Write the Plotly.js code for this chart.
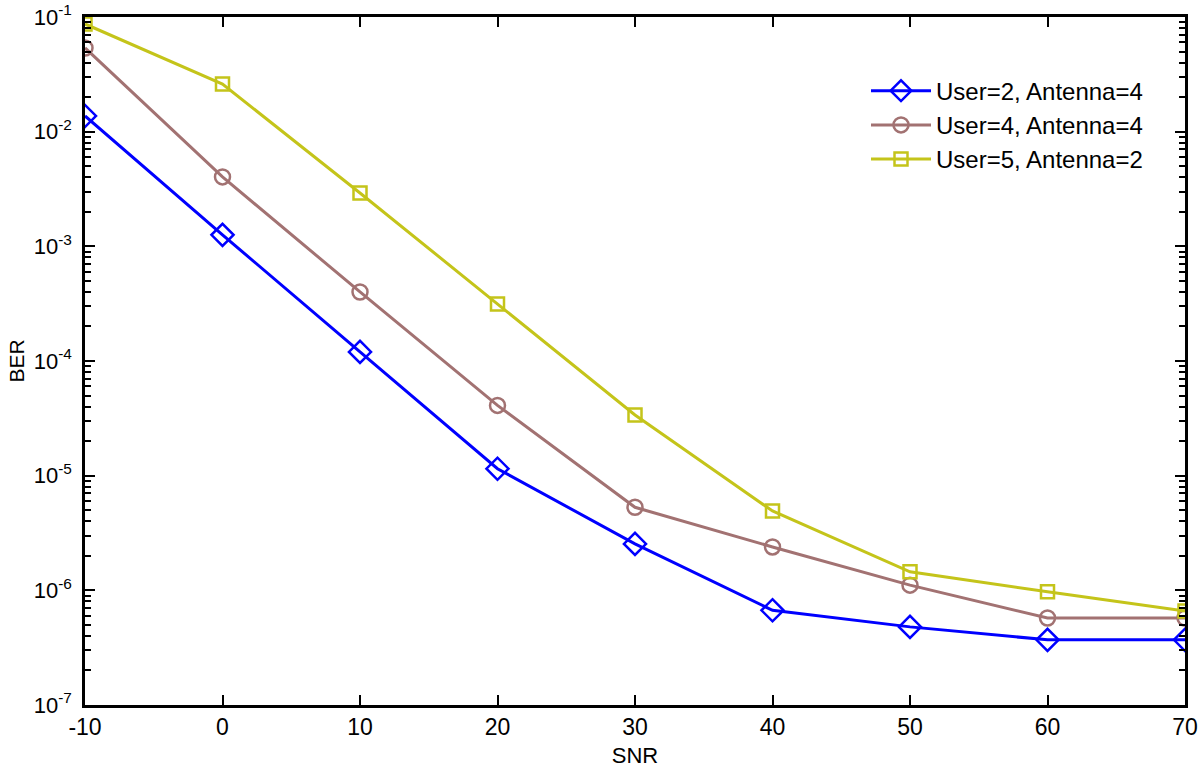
<!DOCTYPE html>
<html><head><meta charset="utf-8">
<script src="https://cdn.plot.ly/plotly-3.0.1.min.js"></script>
<style>html,body{margin:0;padding:0;background:#fff}#chart{width:1200px;height:772px}</style>
</head><body><div id="chart"></div>
<script>
const snr = [-10, 0, 10, 20, 30, 40, 50, 60, 70];
const berU2A4 = [1.37e-2, 1.26e-3, 1.2e-4, 1.15e-5, 2.54e-6, 6.7e-7, 4.8e-7, 3.7e-7, 3.7e-7];
const berU4A4 = [5.37e-2, 4.03e-3, 4.0e-4, 4.1e-5, 5.3e-6, 2.39e-6, 1.11e-6, 5.74e-7, 5.74e-7];
const berU5A2 = [8.69e-2, 2.6e-2, 2.92e-3, 3.14e-4, 3.38e-5, 4.92e-6, 1.45e-6, 9.7e-7, 6.6e-7];
const seriesNames = ['User=2, Antenna=4', 'User=4, Antenna=4', 'User=5, Antenna=2'];
const xTicks = [-10, 0, 10, 20, 30, 40, 50, 60, 70];
const yExps = [-7, -6, -5, -4, -3, -2, -1];

const yTickVals = yExps.map(e => Math.pow(10, e));
const yTickText = yExps.map(e => '10<sup>' + e + '</sup>');
const minorVals = [];
yExps.slice(0, -1).forEach(e => { for (let m = 2; m <= 9; m++) minorVals.push(m * Math.pow(10, e)); });

const font = 'Liberation Sans, Arial, sans-serif';
const yLo = yExps[0], yHi = yExps[yExps.length - 1];

const mk = (y, name, color, symbol, size) => ({
  x: snr, y: y, name: name, type: 'scatter', mode: 'lines+markers',
  line: {color: color, width: 3},
  marker: {symbol: symbol, size: size, color: color, line: {color: color, width: 2.5}}
});
const data = [
  mk(berU2A4, seriesNames[0], '#0000ff', 'diamond-open', 17),
  mk(berU4A4, seriesNames[1], '#a27272', 'circle-open', 15),
  mk(berU5A2, seriesNames[2], '#c4c41a', 'square-open', 13)
];
const layout = {
  width: 1200, height: 772,
  margin: {l: 85, r: 15, t: 17, b: 67},
  paper_bgcolor: '#fff', plot_bgcolor: '#fff',
  font: {family: font, color: '#000', size: 22},
  showlegend: true,
  legend: {x: 0.71, y: 0.925, xanchor: 'left', yanchor: 'top', bgcolor: 'rgba(0,0,0,0)',
           font: {size: 24, family: font}, tracegroupgap: 0, itemwidth: 60},
  xaxis: {
    range: [xTicks[0], xTicks[xTicks.length - 1]], tickmode: 'array', tickvals: xTicks, ticktext: xTicks.map(String),
    ticks: 'inside', ticklen: 10, tickwidth: 2, tickcolor: '#000',
    showline: true, linecolor: '#000', linewidth: 2.5, mirror: 'ticks',
    showgrid: false, zeroline: false,
    tickfont: {size: 23, family: font},
    title: {text: 'SNR', font: {size: 22, family: font}, standoff: 9}
  },
  yaxis: {
    type: 'log', range: [yLo, yHi], tickmode: 'array', tickvals: yTickVals, ticktext: yTickText,
    ticks: 'inside', ticklen: 10, tickwidth: 2, tickcolor: '#000',
    showline: true, linecolor: '#000', linewidth: 2.5, mirror: 'ticks',
    showgrid: false, zeroline: false, ticklabelstandoff: 6,
    tickfont: {size: 22, family: font},
    title: {text: 'BER', font: {size: 21, family: font}, standoff: 4},
    minor: {tickmode: 'array', tickvals: minorVals, ticks: 'inside', ticklen: 6, tickwidth: 1.5, tickcolor: '#000', showgrid: false}
  }
};
Plotly.newPlot('chart', data, layout, {displayModeBar: false});
</script></body></html>
